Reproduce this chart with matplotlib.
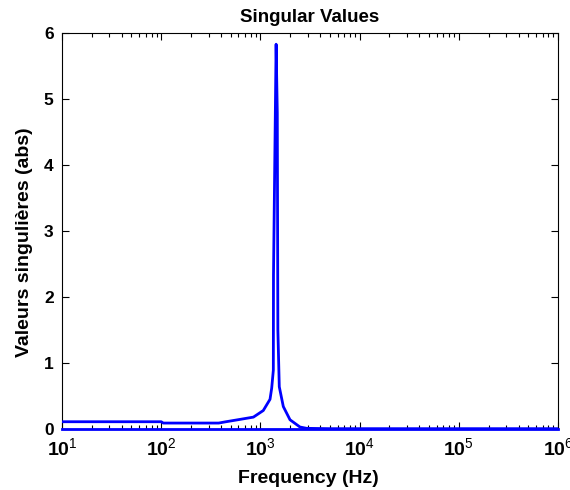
import matplotlib
matplotlib.use("Agg")
import matplotlib.pyplot as plt
from matplotlib.ticker import LogLocator, NullFormatter, FixedLocator, FixedFormatter

plt.rcParams['font.family'] = ['Liberation Sans', 'DejaVu Sans']
plt.rcParams['mathtext.fontset'] = 'custom'
plt.rcParams['mathtext.rm'] = 'Liberation Sans'
plt.rcParams['mathtext.bf'] = 'Liberation Sans:bold'

freq = [10, 100, 105, 380, 450, 620, 850, 1069, 1250, 1300, 1350, 1355,
        1440, 1480, 1500, 1550, 1702, 1988, 2505, 2929, 5000, 1e6]
sv1 = [0.11, 0.11, 0.09, 0.09, 0.11, 0.145, 0.18, 0.28, 0.45, 0.62, 0.89, 2.33,
       5.83, 4.79, 1.5, 0.64, 0.34, 0.14, 0.03, 0.01, 0.005, 0.005]
freq2 = [10, 1e6]
sv2 = [0.0, 0.0]

xticks = [1e1, 1e2, 1e3, 1e4, 1e5, 1e6]
xtick_exps = ['1', '2', '3', '4', '5', '6']
yticks = [0, 1, 2, 3, 4, 5, 6]

title = "Singular Values"
xlabel = "Frequency (Hz)"
ylabel = "Valeurs singulières (abs)"

W, H = 570, 490
fig = plt.figure(figsize=(W/100, H/100), dpi=100)
ax = fig.add_axes([62/W, 1 - 429/H, (558-62)/W, (429-33)/H])
ax.plot(freq2, sv2, color='#0000ff', lw=2.0, clip_on=False, zorder=3)
ax.plot(freq, sv1, color='#0000ff', lw=2.0, zorder=3)
ax.set_xscale('log')
ax.set_xlim(10, 1e6)
ax.set_ylim(0, 6)
ax.yaxis.set_major_locator(FixedLocator(yticks))
ax.xaxis.set_major_locator(FixedLocator(xticks))
ax.xaxis.set_major_formatter(FixedFormatter(
    [r'$\mathbf{10}^{\mathrm{%s}}$' % e for e in xtick_exps]))
ax.xaxis.set_minor_locator(LogLocator(base=10, subs=range(2, 10), numticks=20))
ax.xaxis.set_minor_formatter(NullFormatter())
ax.tick_params(which='both', direction='in', top=True, right=True, width=0.8)
ax.tick_params(which='major', length=5, labelsize=12.5)
ax.tick_params(axis='x', which='major', pad=6, labelsize=14)
ax.tick_params(axis='y', which='major', pad=6)
ax.tick_params(which='minor', length=3)
for lab in ax.get_yticklabels():
    lab.set_fontweight('bold')
for s in ax.spines.values():
    s.set_linewidth(0.8)

fig.text(310/W, 1 - 21.7/H, title, fontsize=13.5, fontweight='bold',
         ha='center', va='baseline')
fig.text(308/W, 1 - 483/H, xlabel, fontsize=14, fontweight='bold',
         ha='center', va='baseline')
fig.text(25/W, 1 - 242/H, ylabel, fontsize=14, fontweight='bold',
         ha='center', va='center', rotation=90)
fig.savefig('out.png', dpi=100)
